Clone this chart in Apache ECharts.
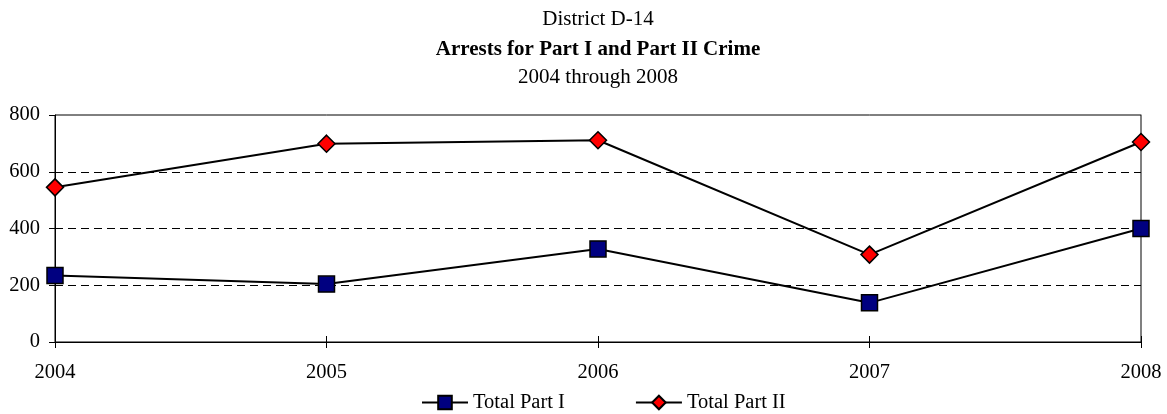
<!DOCTYPE html>
<html>
<head>
<meta charset="utf-8">
<script src="https://cdn.jsdelivr.net/npm/echarts@6/dist/echarts.min.js"></script>
<style>html,body{margin:0;padding:0;background:#fff;}#c{width:1167px;height:414px;}</style>
</head>
<body>
<div id="c"></div>
<script>
const categories = ['2004', '2005', '2006', '2007', '2008'];
const partI = [234, 204, 328, 138, 400];
const partII = [545, 699, 711, 308, 705];
const yTicks = [0, 200, 400, 600, 800];

const font = 'Liberation Serif';
const tFont = 21;
const aFont = 20.5;
const chart = echarts.init(document.getElementById('c'));
chart.setOption({
  animation: false,
  backgroundColor: '#fff',
  title: [
    { text: 'District D-14', left: 598, top: 9, padding: 0, textAlign: 'center',
      textStyle: { fontFamily: font, fontSize: tFont, fontWeight: 'normal', color: '#000' } },
    { text: 'Arrests for Part I and Part II Crime', left: 598, top: 39, padding: 0, textAlign: 'center',
      textStyle: { fontFamily: font, fontSize: tFont, fontWeight: 'bold', color: '#000' } },
    { text: '2004 through 2008', left: 598, top: 67, padding: 0, textAlign: 'center',
      textStyle: { fontFamily: font, fontSize: tFont, fontWeight: 'normal', color: '#000' } }
  ],
  legend: {
    top: 392, left: 421, padding: 0,
    itemWidth: 46, itemHeight: 17, itemGap: 70,
    textStyle: { fontFamily: font, fontSize: aFont, color: '#000' },
    data: ['Total Part I', 'Total Part II']
  },
  grid: { left: 55, right: 26, top: 115, bottom: 72, show: true, borderColor: '#000', borderWidth: 1 },
  xAxis: [{
    type: 'category', data: categories, boundaryGap: false,
    axisLine: { lineStyle: { color: '#000', width: 1 } },
    axisTick: { show: true, alignWithLabel: true, length: 6, lineStyle: { color: '#000' } },
    axisLabel: { fontFamily: font, fontSize: aFont, color: '#000', margin: 20 },
    splitLine: { show: false }
  }, {
    type: 'category', data: categories, boundaryGap: false, position: 'bottom',
    axisLine: { show: false },
    axisTick: { show: true, inside: true, alignWithLabel: true, length: 6, lineStyle: { color: '#000' } },
    axisLabel: { show: false },
    splitLine: { show: false }
  }],
  yAxis: [{
    type: 'value', min: yTicks[0], max: yTicks[yTicks.length - 1], interval: 200,
    axisLine: { show: true, lineStyle: { color: '#000', width: 1 } },
    axisTick: { show: true, length: 6, lineStyle: { color: '#000' } },
    axisLabel: { fontFamily: font, fontSize: aFont, color: '#000', margin: 15 },
    splitLine: { show: true, showMinLine: false, showMaxLine: false, lineStyle: { color: '#000', type: [8, 5], width: 1 } }
  }, {
    type: 'value', min: yTicks[0], max: yTicks[yTicks.length - 1], interval: 200, position: 'right',
    axisLine: { show: true, lineStyle: { color: '#808080', width: 1 } },
    axisTick: { show: false }, axisLabel: { show: false }, splitLine: { show: false }
  }],
  series: [
    { name: 'Total Part I', type: 'line', data: partI,
      symbol: 'rect', symbolSize: 16,
      lineStyle: { color: '#000', width: 2 },
      itemStyle: { color: '#000080', borderColor: '#000', borderWidth: 1.5 } },
    { name: 'Total Part II', type: 'line', data: partII,
      symbol: 'diamond', symbolSize: 17,
      lineStyle: { color: '#000', width: 2 },
      itemStyle: { color: '#ff0000', borderColor: '#000', borderWidth: 1.5 } }
  ]
});
</script>
</body>
</html>
